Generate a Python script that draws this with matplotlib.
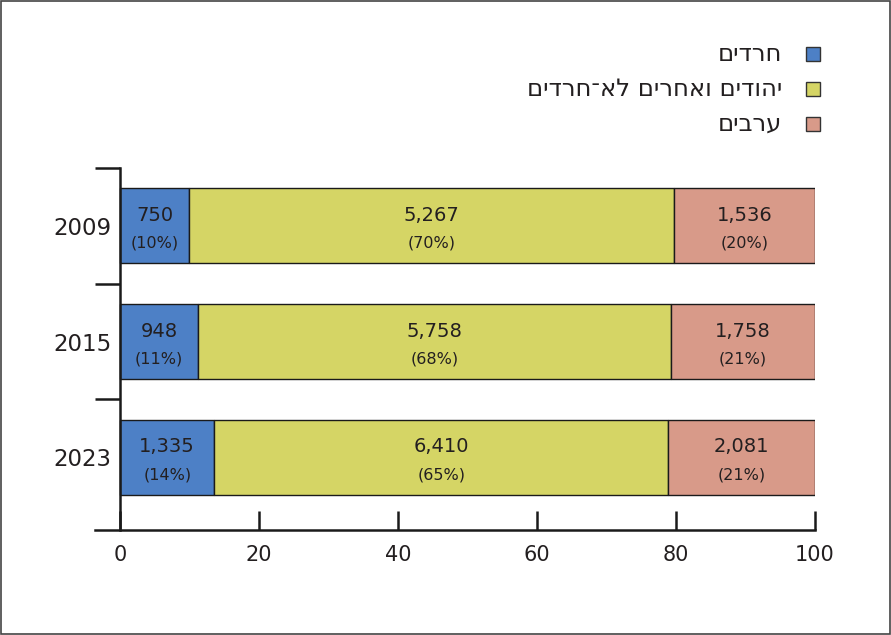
import matplotlib
matplotlib.use("Agg")
import matplotlib.pyplot as plt
from matplotlib.patches import Rectangle
import numpy as np

# data
years = ["2009", "2015", "2023"]
haredi = [750, 948, 1335]
jews_other = [5267, 5758, 6410]
arabs = [1536, 1758, 2081]
pct_labels = [["10%", "70%", "20%"], ["11%", "68%", "21%"], ["14%", "65%", "21%"]]
series_names = ["חרדים", "יהודים ואחרים לא־חרדים", "ערבים"]
colors = ["#4d80c6", "#d5d565", "#d89a89"]
xticks = [0, 20, 40, 60, 80, 100]


def rtl(s):
    # matplotlib has no bidi support, so reverse hebrew text by hand
    return s[::-1]


plt.rcParams["font.family"] = ["DejaVu Sans"]
txt_color = "#231f20"

fig = plt.figure(figsize=(8.91, 6.35), dpi=100)
ax = fig.add_axes([95 / 891, 105 / 635, 720 / 891, 362 / 635])

counts = np.array([haredi, jews_other, arabs], dtype=float)
totals = counts.sum(axis=0)
shares = counts / totals * 100
ypos = np.array([2, 1, 0])

left = np.zeros(len(years))
for i in range(3):
    ax.barh(ypos, shares[i], left=left, height=0.65, color=colors[i],
            edgecolor="#1a1a1a", linewidth=1.0, zorder=2)
    for j in range(len(years)):
        cx = left[j] + shares[i][j] / 2
        ax.text(cx, ypos[j] + 0.09, f"{int(counts[i][j]):,}", ha="center", va="center",
                fontsize=14, color=txt_color, zorder=3)
        ax.text(cx, ypos[j] - 0.15, f"({pct_labels[j][i]})", ha="center", va="center",
                fontsize=11.5, color=txt_color, zorder=3)
    left += shares[i]

ax.set_xlim(-3.6, 100)
ax.set_ylim(-0.629, 2.487)

for s in ["top", "right"]:
    ax.spines[s].set_visible(False)
ax.spines["left"].set_position(("data", 0))
for s in ["left", "bottom"]:
    ax.spines[s].set_color("#1a1a1a")
    ax.spines[s].set_linewidth(1.8)

ax.set_xticks(xticks)
ax.set_xticklabels([str(v) for v in xticks], fontsize=15, color=txt_color)
ax.tick_params(axis="x", direction="in", length=14, width=1.8, pad=11, color="#1a1a1a")

ax.set_yticks([0.5, 1.5, 2.5])
ax.set_yticklabels([])
ax.tick_params(axis="y", which="major", direction="out", length=18, width=1.8, color="#1a1a1a")
ax.set_yticks(ypos, minor=True)
ax.set_yticklabels(years, minor=True, fontsize=16.5, color=txt_color)
ax.tick_params(axis="y", which="minor", length=0, pad=6)

# legend, right aligned hebrew
for k, name in enumerate(series_names):
    y = 1 - (54 + 35 * k) / 635
    fig.patches.append(Rectangle((806 / 891, y - 7 / 635), 14 / 891, 14 / 635,
                                 transform=fig.transFigure, facecolor=colors[k],
                                 edgecolor="#333333", linewidth=1.0))
    fig.text(782 / 891, y, rtl(name), ha="right", va="center", fontsize=17.5,
             color=txt_color)

# outer frame
fig.patches.append(Rectangle((0.001, 0.001), 0.998, 0.997, transform=fig.transFigure,
                             fill=False, edgecolor="#444444", linewidth=1.2))

fig.savefig("out.png", dpi=100)
